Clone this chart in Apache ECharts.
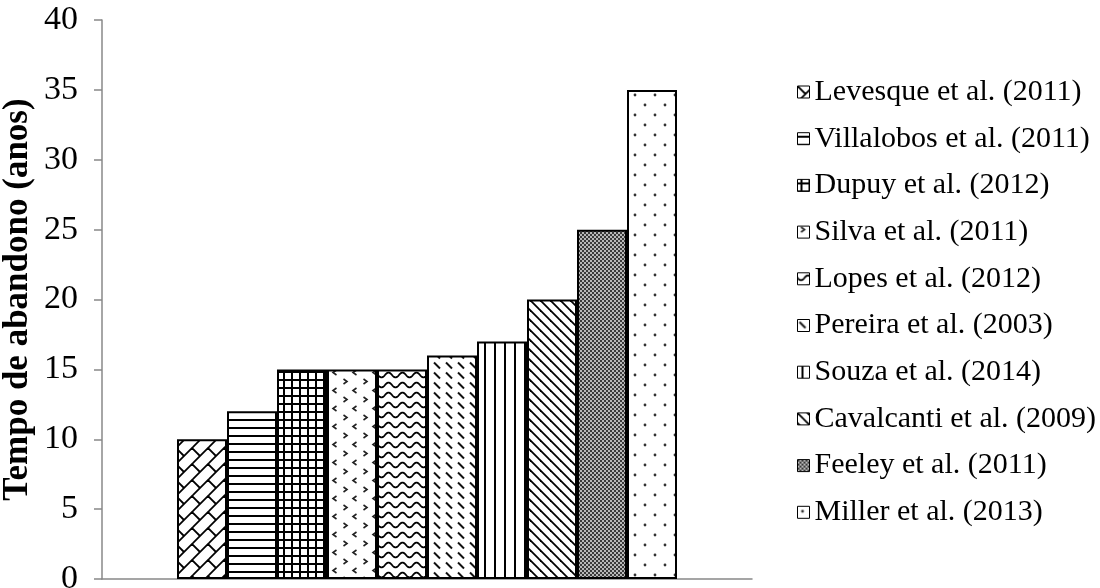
<!DOCTYPE html>
<html>
<head>
<meta charset="utf-8">
<script src="https://cdn.jsdelivr.net/npm/echarts@6/dist/echarts.min.js"></script>
<style>
  html, body { margin: 0; padding: 0; background: #fff; }
  #chart { width: 1100px; height: 588px; }
</style>
</head>
<body>
<div id="chart"></div>
<script>
// Studies and reported abandonment time (years)
const categories = [''];
const studies = [
  'Levesque et al. (2011)',
  'Villalobos et al. (2011)',
  'Dupuy et al. (2012)',
  'Silva et al. (2011)',
  'Lopes et al. (2012)',
  'Pereira et al. (2003)',
  'Souza et al. (2014)',
  'Cavalcanti et al. (2009)',
  'Feeley et al. (2011)',
  'Miller et al. (2013)'
];
const abandonYears = [10, 12, 15, 15, 15, 16, 17, 20, 25, 35];
const yMin = 0, yMax = 40, yStep = 5;
const yTitle = 'Tempo de abandono (anos)';

// Build a repeating monochrome fill tile on a small canvas
function tile(w, h, draw) {
  const c = document.createElement('canvas');
  c.width = w; c.height = h;
  const ctx = c.getContext('2d');
  ctx.fillStyle = '#fff';
  ctx.fillRect(0, 0, w, h);
  ctx.strokeStyle = '#000';
  ctx.fillStyle = '#000';
  ctx.lineCap = 'butt';
  draw(ctx, w, h);
  return { image: c, repeat: 'repeat' };
}
function line(ctx, x1, y1, x2, y2, lw) {
  ctx.lineWidth = lw;
  ctx.beginPath(); ctx.moveTo(x1, y1); ctx.lineTo(x2, y2); ctx.stroke();
}

const fills = [
  // diagonal brick
  tile(16, 16, (ctx) => {
    line(ctx, -2, 18, 18, -2, 1.8);
    line(ctx, -2, 2, 2, -2, 1.8);
    line(ctx, 14, 18, 18, 14, 1.8);
    line(ctx, 0, 0, 8, 8, 1.8);
    line(ctx, 16, 16, 17, 17, 1.8);
  }),
  // horizontal lines
  tile(8, 8, (ctx) => { ctx.fillRect(0, 3, 8, 2); }),
  // grid
  tile(8, 8, (ctx) => { ctx.fillRect(0, 3, 8, 2); ctx.fillRect(3, 0, 2, 8); }),
  // chevron marks
  tile(20, 18, (ctx) => {
    ctx.strokeStyle = '#222';
    ctx.lineWidth = 1.6;
    ctx.beginPath(); ctx.moveTo(3.5, 1); ctx.lineTo(7, 3.5); ctx.lineTo(3.5, 6); ctx.stroke();
    ctx.beginPath(); ctx.moveTo(16.5, 10); ctx.lineTo(13, 12.5); ctx.lineTo(16.5, 15); ctx.stroke();
  }),
  // waves
  tile(14, 10, (ctx) => {
    ctx.lineWidth = 1.8;
    ctx.beginPath();
    for (let x = -1; x <= 15; x += 0.5) {
      const y = 5 + 2.4 * Math.sin(2 * Math.PI * x / 14);
      if (x === -1) ctx.moveTo(x, y); else ctx.lineTo(x, y);
    }
    ctx.stroke();
  }),
  // short back-slash dashes
  tile(12, 10, (ctx) => {
    ctx.strokeStyle = '#111';
    line(ctx, 2, 2.5, 8, 8.5, 2);
  }),
  // vertical lines
  tile(10, 10, (ctx) => { ctx.fillRect(4, 0, 2, 10); }),
  // back-slash diagonals
  tile(10, 10, (ctx) => {
    line(ctx, -1, -1, 11, 11, 1.8);
    line(ctx, 9, -1, 11, 1, 1.8);
    line(ctx, -1, 9, 1, 11, 1.8);
  }),
  // fine checker
  tile(4, 4, (ctx) => {
    ctx.fillStyle = '#b8b8b8'; ctx.fillRect(0, 0, 4, 4);
    ctx.fillStyle = '#3a3a3a'; ctx.fillRect(0, 0, 2, 2); ctx.fillRect(2, 2, 2, 2);
  }),
  // sparse dots
  tile(20, 20, (ctx) => {
    ctx.fillStyle = '#333';
    ctx.beginPath(); ctx.arc(5, 5, 1.4, 0, Math.PI * 2); ctx.fill();
    ctx.beginPath(); ctx.arc(15, 15, 1.4, 0, Math.PI * 2); ctx.fill();
  })
];

const serif = '"Liberation Serif", "Times New Roman", serif';

const chart = echarts.init(document.getElementById('chart'), null, { renderer: 'canvas' });

chart.setOption({
  animation: false,
  backgroundColor: '#fff',
  grid: { left: 102, right: 348, top: 20, bottom: 9, containLabel: false, outerBoundsMode: 'none' },
  legend: {
    orient: 'vertical',
    left: 792,
    top: 72,
    icon: 'rect',
    itemWidth: 12,
    itemHeight: 12,
    itemGap: 16.7,
    itemStyle: { borderColor: '#000', borderWidth: 1 },
    textStyle: { fontFamily: serif, fontSize: 30, color: '#000', lineHeight: 30 },
    data: studies
  },
  xAxis: {
    type: 'category',
    data: categories,
    axisLine: { lineStyle: { color: '#888', width: 1.5 } },
    axisTick: { show: false },
    axisLabel: { show: false },
    splitLine: { show: false }
  },
  yAxis: {
    type: 'value',
    min: yMin, max: yMax, interval: yStep,
    name: yTitle,
    nameLocation: 'middle',
    nameGap: 67,
    nameMoveOverlap: false,
    nameTextStyle: { fontFamily: serif, fontSize: 35, fontWeight: 'bold', color: '#000' },
    axisLine: { show: true, lineStyle: { color: '#888', width: 1.5 } },
    axisTick: { show: true, length: 8, lineStyle: { color: '#888', width: 1.5 } },
    axisLabel: { fontFamily: serif, fontSize: 34, color: '#000', margin: 24 },
    splitLine: { show: false }
  },
  series: studies.map((name, i) => ({
    name: name,
    type: 'bar',
    barWidth: 50,
    barGap: '0%',
    data: [abandonYears[i]],
    itemStyle: { color: fills[i], borderColor: '#000', borderWidth: 2 },
    emphasis: { disabled: true }
  }))
});
</script>
</body>
</html>
